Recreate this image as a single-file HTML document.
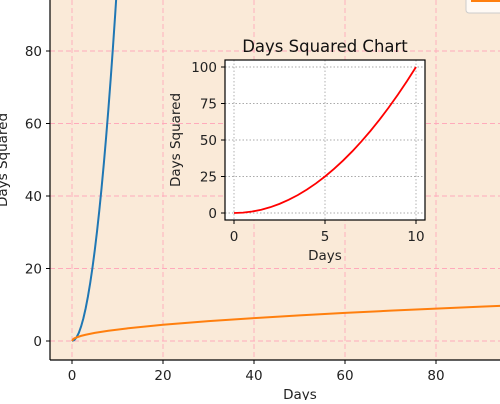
<!DOCTYPE html>
<html><head><meta charset="utf-8"><style>
body{margin:0;width:500px;height:400px;overflow:hidden;background:#fff;font-family:"DejaVu Sans","Liberation Sans",sans-serif}
</style></head><body>
<svg id="c" width="500" height="400" xmlns="http://www.w3.org/2000/svg" font-family="DejaVu Sans, Liberation Sans, sans-serif"></svg>
<script>
const mainDaysBlue=[0,0.5,1,1.5,2,2.5,3,3.5,4,4.5,5,5.5,6,6.5,7,7.5,8,8.5,9,9.5,10];
const mainBlue=[0,0.25,1,2.25,4,6.25,9,12.25,16,20.25,25,30.25,36,42.25,49,56.25,64,72.25,81,90.25,100];
const mainDaysOrange=[0,0.25,0.5,1,2,3,5,8,12,20,30,40,50,60,70,80,90,100];
const mainOrange=[0,0.5,0.71,1,1.41,1.73,2.24,2.83,3.46,4.47,5.48,6.32,7.07,7.75,8.37,8.94,9.49,10];
const mainXTicks=[0,20,40,60,80];
const mainYTicks=[0,20,40,60,80];
const insetDays=[0,0.5,1,1.5,2,2.5,3,3.5,4,4.5,5,5.5,6,6.5,7,7.5,8,8.5,9,9.5,10];
const insetVals=[0,0.25,1,2.25,4,6.25,9,12.25,16,20.25,25,30.25,36,42.25,49,56.25,64,72.25,81,90.25,100];
const insetXTicks=[0,5,10];
const insetYTicks=[0,25,50,75,100];

const svg=document.getElementById('c');
const NS='http://www.w3.org/2000/svg';
function el(t,a,p){const e=document.createElementNS(NS,t);for(const k in a)e.setAttribute(k,a[k]);(p||svg).appendChild(e);return e;}

const mx=v=>72+(v-0)*(436-72)/80;
const my=v=>341-(v)*(341-51)/80;
const bg=el('rect',{x:50,y:0,width:450,height:360,fill:'#faead8'});


const defs=el('defs',{});
const cp=el('clipPath',{id:'mclip'},defs);el('rect',{x:50,y:0,width:450,height:360},cp);
mainXTicks.forEach(t=>{
  const g=el('line',{x1:mx(t),x2:mx(t),y1:0,y2:360,stroke:'#ffaabb','stroke-dasharray':'5,3','stroke-width':0.9});
  
  
  el('line',{x1:mx(t),x2:mx(t),y1:360,y2:364,stroke:'#000'});
  const tx=el('text',{x:mx(t),y:380,'font-size':13.5,'text-anchor':'middle',fill:'#222'});tx.textContent=t;
  
  
});
mainYTicks.forEach(t=>{
  const g=el('line',{x1:50,x2:500,y1:my(t),y2:my(t),stroke:'#ffaabb','stroke-dasharray':'5,3','stroke-width':0.9});
  
  
  el('line',{x1:46,x2:50,y1:my(t),y2:my(t),stroke:'#000'});
  const tx=el('text',{x:42,y:my(t)+5,'font-size':13.5,'text-anchor':'end',fill:'#222'});tx.textContent=t;
  
  
});
const pb=el('polyline',{points:mainDaysBlue.map((d,i)=>mx(d)+','+my(mainBlue[i])).join(' '),fill:'none',stroke:'#1f77b4','stroke-width':2,'clip-path':'url(#mclip)'});


const po=el('polyline',{points:mainDaysOrange.map((d,i)=>mx(d)+','+my(mainOrange[i])).join(' '),fill:'none',stroke:'#ff7f0e','stroke-width':2,'clip-path':'url(#mclip)'});


el('line',{x1:50,x2:50,y1:0,y2:360,stroke:'#000','stroke-width':1.2});
el('line',{x1:50,x2:500,y1:360,y2:360,stroke:'#000','stroke-width':1.2});
const xl=el('text',{x:300,y:399,'font-size':13.5,'text-anchor':'middle',fill:'#222'});xl.textContent='Days';


const yl=el('text',{x:0,y:0,'font-size':13.5,'text-anchor':'middle',fill:'#222',transform:'translate(7,160) rotate(-90)'});yl.textContent='Days Squared';


const lg=el('rect',{x:466,y:-10,width:50,height:23,rx:3,fill:'#fffaf5',stroke:'#ccc'});


const le=el('line',{x1:471,x2:500,y1:1,y2:1,stroke:'#ff7f0e','stroke-width':2});



const ix=v=>234+v*(416-234)/10;
const iy=v=>213-v*(213-67)/100;
const ib=el('rect',{x:225,y:60,width:200,height:160,fill:'#fff'});


insetXTicks.forEach(t=>{
  el('line',{x1:ix(t),x2:ix(t),y1:60,y2:220,stroke:'#aaa','stroke-dasharray':'1.5,2','stroke-width':0.9});
  el('line',{x1:ix(t),x2:ix(t),y1:220,y2:224,stroke:'#000'});
  const tx=el('text',{x:ix(t),y:241,'font-size':13.5,'text-anchor':'middle',fill:'#222'});tx.textContent=t;
  
  
});
insetYTicks.forEach(t=>{
  el('line',{x1:225,x2:425,y1:iy(t),y2:iy(t),stroke:'#aaa','stroke-dasharray':'1.5,2','stroke-width':0.9});
  el('line',{x1:221,x2:225,y1:iy(t),y2:iy(t),stroke:'#000'});
  const tx=el('text',{x:217,y:iy(t)+5,'font-size':13.5,'text-anchor':'end',fill:'#222'});tx.textContent=t;
  
  
});
const pr=el('polyline',{points:insetDays.map((d,i)=>ix(d)+','+iy(insetVals[i])).join(' '),fill:'none',stroke:'#ff0000','stroke-width':1.8});


el('rect',{x:225,y:60,width:200,height:160,fill:'none',stroke:'#000','stroke-width':1.2});
const it=el('text',{x:325,y:52,'font-size':16.5,'text-anchor':'middle',fill:'#111'});it.textContent='Days Squared Chart';


const ixl=el('text',{x:325,y:260,'font-size':13.5,'text-anchor':'middle',fill:'#222'});ixl.textContent='Days';


const iyl=el('text',{x:0,y:0,'font-size':13.5,'text-anchor':'middle',fill:'#222',transform:'translate(180,140) rotate(-90)'});iyl.textContent='Days Squared';


</script>
</body></html>
